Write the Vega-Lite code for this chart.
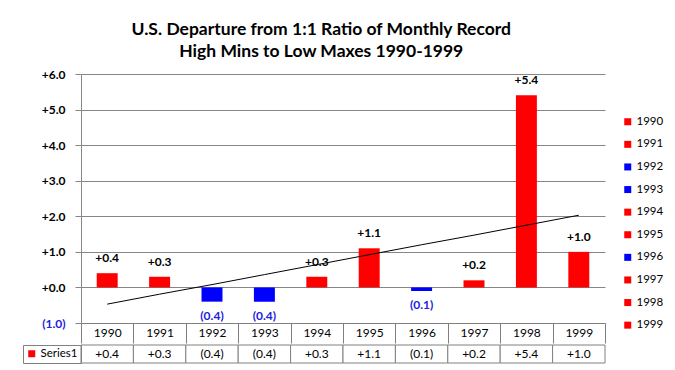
{
  "$schema": "https://vega.github.io/schema/vega-lite/v6.json",
  "background": "white",
  "padding": {"left": 22, "top": 20, "right": 0, "bottom": 0},
  "title": {
    "text": ["U.S. Departure from 1:1 Ratio of Monthly Record", "High Mins to  Low Maxes 1990-1999"],
    "font": "Lato", "fontSize": 17.5, "fontWeight": "bold", "color": "black",
    "anchor": "middle", "lineHeight": 22, "offset": 8, "dx": -22
  },
  "config": {
    "font": "Lato",
    "view": {"stroke": null},
    "legend": {"padding": 0}
  },
  "data": {
    "values": [
      {"year": "1990", "value": 0.4, "label": "+0.4", "trend": -0.47, "series": "Series1"},
      {"year": "1991", "value": 0.3, "label": "+0.3", "trend": -0.19, "series": "Series1"},
      {"year": "1992", "value": -0.4, "label": "(0.4)", "trend": 0.08, "series": "Series1"},
      {"year": "1993", "value": -0.4, "label": "(0.4)", "trend": 0.36, "series": "Series1"},
      {"year": "1994", "value": 0.3, "label": "+0.3", "trend": 0.64, "series": "Series1"},
      {"year": "1995", "value": 1.1, "label": "+1.1", "trend": 0.92, "series": "Series1"},
      {"year": "1996", "value": -0.1, "label": "(0.1)", "trend": 1.20, "series": "Series1"},
      {"year": "1997", "value": 0.2, "label": "+0.2", "trend": 1.47, "series": "Series1"},
      {"year": "1998", "value": 5.4, "label": "+5.4", "trend": 1.75, "series": "Series1"},
      {"year": "1999", "value": 1.0, "label": "+1.0", "trend": 2.03, "series": "Series1"}
    ]
  },
  "spacing": 0,
  "vconcat": [
    {
      "width": 524,
      "height": 249,
      "encoding": {
        "x": {
          "field": "year", "type": "nominal",
          "scale": {"paddingInner": 0, "paddingOuter": 0},
          "axis": {
            "title": null, "labelAngle": 0, "labelFont": "Lato", "labelFontSize": 12,
            "labelColor": "black", "domainColor": "#808080", "tickColor": "#808080",
            "tickSize": 20, "tickBand": "extent", "labelPadding": -16, "grid": false
          }
        }
      },
      "layer": [
        {
          "mark": {"type": "bar", "width": {"band": 0.4}},
          "encoding": {
            "y": {
              "field": "value", "type": "quantitative",
              "scale": {"domain": [-1, 6], "nice": false, "zero": false},
              "axis": {
                "title": null, "values": [-1, 0, 1, 2, 3, 4, 5, 6], "tickCount": 10,
                "labelOverlap": false,
                "labelExpr": "datum.value < 0 ? '(' + format(-datum.value, '.1f') + ')' : '+' + format(datum.value, '.1f')",
                "labelColor": {"condition": {"test": "datum.value < 0", "value": "#2222DD"}, "value": "black"},
                "labelFont": "Lato", "labelFontSize": 12, "labelFontWeight": "bold",
                "labelPadding": 10, "tickSize": 6, "tickColor": "#868686",
                "domainColor": "#868686", "gridColor": "#868686", "grid": true
              }
            },
            "color": {
              "field": "year", "type": "nominal",
              "scale": {"range": ["#FF0000", "#FF0000", "#0000FF", "#0000FF", "#FF0000", "#FF0000", "#0000FF", "#FF0000", "#FF0000", "#FF0000"]},
              "legend": {
                "orient": "none", "legendX": 541, "legendY": 42, "title": null,
                "symbolType": "square", "symbolSize": 49, "symbolStrokeWidth": 0,
                "labelFont": "Lato", "labelFontSize": 11.5, "labelColor": "black",
                "rowPadding": 9.6, "labelOffset": 3
              }
            }
          }
        },
        {
          "transform": [{"filter": "datum.value >= 0"}],
          "mark": {"type": "text", "baseline": "bottom", "dy": -8, "fontWeight": "bold", "fontSize": 12, "color": "black"},
          "encoding": {
            "y": {"field": "value", "type": "quantitative"},
            "text": {"field": "label"}
          }
        },
        {
          "transform": [{"filter": "datum.value < 0"}],
          "mark": {"type": "text", "baseline": "top", "dy": 9, "fontWeight": "bold", "fontSize": 12, "color": "#2222DD"},
          "encoding": {
            "y": {"field": "value", "type": "quantitative"},
            "text": {"field": "label"}
          }
        },
        {
          "mark": {"type": "line", "color": "black", "strokeWidth": 1},
          "encoding": {
            "y": {"field": "trend", "type": "quantitative"}
          }
        }
      ]
    },
    {
      "width": 524,
      "height": 18,
      "encoding": {
        "x": {
          "field": "year", "type": "nominal",
          "scale": {"paddingInner": 0, "paddingOuter": 0},
          "axis": null
        }
      },
      "layer": [
        {
          "mark": {"type": "rect", "fill": "white", "stroke": "#808080", "strokeWidth": 1},
          "encoding": {}
        },
        {
          "mark": {"type": "point", "shape": "square", "filled": true, "opacity": 0},
          "encoding": {
            "color": {
              "field": "series", "type": "nominal",
              "scale": {"range": ["#FF0000"]},
              "legend": {
                "orient": "left", "offset": 0, "title": null,
                "symbolType": "square", "symbolSize": 49, "symbolOpacity": 1, "symbolStrokeWidth": 0,
                "strokeColor": "#808080", "padding": 3, "symbolOffset": 0,
                "labelFont": "Lato", "labelFontSize": 11.5, "labelColor": "black", "labelOffset": 3
              }
            }
          }
        },
        {
          "mark": {"type": "text", "fontSize": 12, "color": "black"},
          "encoding": {
            "text": {"field": "label"}
          }
        }
      ]
    }
  ],
  "resolve": {"scale": {"color": "independent"}, "legend": {"color": "independent"}}
}
